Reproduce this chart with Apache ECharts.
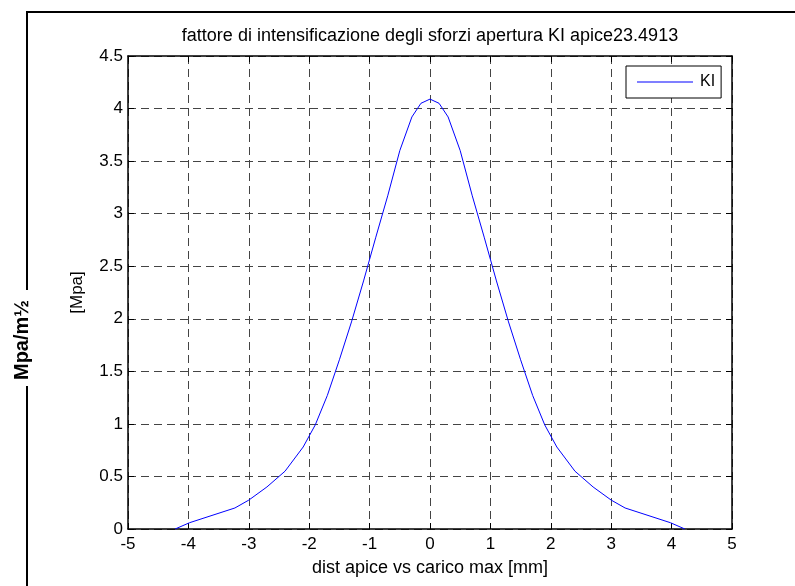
<!DOCTYPE html>
<html>
<head>
<meta charset="utf-8">
<script src="https://cdn.jsdelivr.net/npm/echarts@6/dist/echarts.min.js"></script>
<style>html,body{margin:0;padding:0;background:#fff}#c{width:795px;height:586px}</style>
</head>
<body>
<div id="c"></div>
<script>
// Data (left half, mirrored for the right half)
var xLeft = [-4.22, -3.98, -3.23, -3.0, -2.7, -2.4, -2.1, -1.9, -1.7, -1.5, -1.3, -1.1, -0.9, -0.7, -0.5, -0.3, -0.15];
var yLeft = [0, 0.06, 0.20, 0.275, 0.40, 0.55, 0.78, 0.99, 1.27, 1.61, 1.97, 2.36, 2.77, 3.17, 3.60, 3.92, 4.05];
var xPeak = 0;
var yPeak = 4.09;
var seriesName = 'KI';
var titleText = 'fattore di intensificazione degli sforzi apertura KI apice23.4913';
var xName = 'dist apice vs carico max [mm]';
var yName = '[Mpa]';
var unitLabel = 'Mpa/m\u00BD';

var pts = [];
for (var i = 0; i < xLeft.length; i++) pts.push([xLeft[i], yLeft[i]]);
pts.push([xPeak, yPeak]);
for (var j = xLeft.length - 1; j >= 0; j--) pts.push([-xLeft[j], yLeft[j]]);

var FONT = "'Liberation Sans', Arial, sans-serif";
var chart = echarts.init(document.getElementById('c'), null, {renderer: 'canvas'});

var gridLine = {show: true, lineStyle: {color: '#444', type: [8, 5], width: 1}};
var axisLineBlack = {show: true, onZero: false, lineStyle: {color: '#000', width: 1.5}};
var tickIn = {show: true, inside: true, length: 6, lineStyle: {color: '#000'}};

chart.setOption({
  animation: false,
  backgroundColor: '#fff',
  grid: {left: 128, top: 56, right: 63, bottom: 57, containLabel: false},
  legend: {
    data: [{name: seriesName, icon: 'rect'}],
    left: 626, top: 66,
    padding: [7, 6, 7, 11],
    itemWidth: 56, itemHeight: 1,
    backgroundColor: '#fff',
    borderColor: '#000', borderWidth: 1,
    textStyle: {fontFamily: FONT, fontSize: 16, color: '#000', padding: [0, 0, 0, 2], lineHeight: 18}
  },
  xAxis: [{
    type: 'value', min: -5, max: 5, interval: 1, position: 'bottom',
    name: xName, nameLocation: 'middle', nameGap: 30,
    nameTextStyle: {fontFamily: FONT, fontSize: 18, color: '#000'},
    axisLine: axisLineBlack, axisTick: tickIn,
    axisLabel: {fontFamily: FONT, fontSize: 17, color: '#000', margin: 7},
    splitLine: gridLine
  }, {
    type: 'value', min: -5, max: 5, interval: 1, position: 'top',
    axisLine: axisLineBlack, axisTick: tickIn,
    axisLabel: {show: false}, splitLine: {show: false}
  }],
  yAxis: [{
    type: 'value', min: 0, max: 4.5, interval: 0.5, position: 'left',
    name: yName, nameLocation: 'middle', nameGap: 42, nameRotate: 90,
    nameTextStyle: {fontFamily: FONT, fontSize: 17, color: '#000'},
    axisLine: axisLineBlack, axisTick: tickIn,
    axisLabel: {fontFamily: FONT, fontSize: 17, color: '#000', margin: 5},
    splitLine: gridLine
  }, {
    type: 'value', min: 0, max: 4.5, interval: 0.5, position: 'right',
    axisLine: axisLineBlack, axisTick: tickIn,
    axisLabel: {show: false}, splitLine: {show: false}
  }],
  series: [{
    name: seriesName, type: 'line', data: pts,
    xAxisIndex: 0, yAxisIndex: 0,
    symbol: 'none', smooth: false,
    lineStyle: {color: '#0000ff', width: 1},
    itemStyle: {color: '#0000ff'}
  }],
  graphic: [
    {type: 'rect', shape: {x: 27, y: 12, width: 1000, height: 1000}, style: {fill: 'none', stroke: '#000', lineWidth: 2}, z: 0},
    {type: 'rect', shape: {x: 8, y: 290, width: 29, height: 96}, style: {fill: '#fff'}, z: 1},
    {type: 'text', x: 22, y: 340, rotation: Math.PI / 2,
     style: {text: unitLabel, font: 'bold 20px ' + FONT, fill: '#000', textAlign: 'center', textVerticalAlign: 'middle'}, z: 2},
    {type: 'text', x: 430, y: 36,
     style: {text: titleText, font: '18px ' + FONT, fill: '#000', textAlign: 'center', textVerticalAlign: 'middle'}, z: 2}
  ]
});
</script>
</body>
</html>
